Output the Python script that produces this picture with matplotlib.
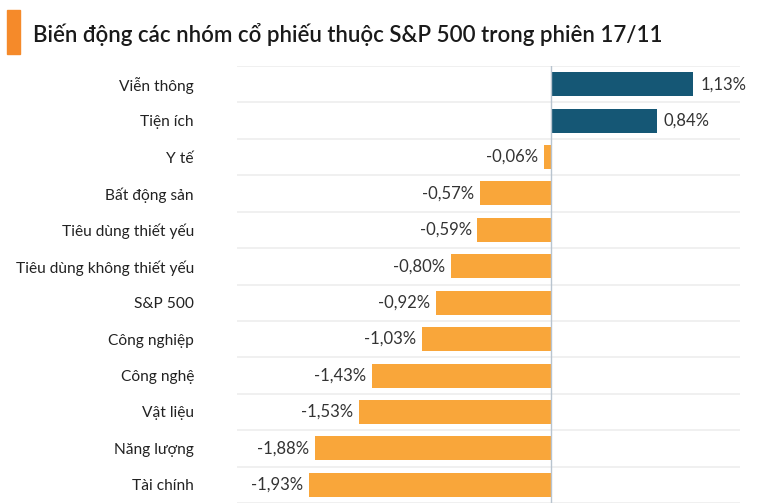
import numpy as np
import matplotlib.pyplot as plt
import matplotlib.patches as patches

plt.rcParams['font.family'] = ['Lato', 'DejaVu Sans']

# dữ liệu
categories = ['Viễn thông', 'Tiện ích', 'Y tế', 'Bất động sản', 'Tiêu dùng thiết yếu',
              'Tiêu dùng không thiết yếu', 'S&P 500', 'Công nghiệp', 'Công nghệ',
              'Vật liệu', 'Năng lượng', 'Tài chính']
values = [1.13, 0.84, -0.06, -0.57, -0.59, -0.80, -0.92, -1.03, -1.43, -1.53, -1.88, -1.93]
title = 'Biến động các nhóm cổ phiếu thuộc S&P 500 trong phiên 17/11'

pos_color = '#155775'
neg_color = '#f9a63a'

fig = plt.figure(figsize=(7.57, 5.04), dpi=100)
ax = fig.add_axes([237 / 757, 1 / 504, 503 / 757, 437 / 504])

y = np.arange(len(categories))
colors = [pos_color if v >= 0 else neg_color for v in values]
ax.barh(y, values, height=0.66, color=colors, zorder=2)

ax.set_xlim(-2.5, 1.5)
ax.set_ylim(len(categories) - 0.5, -0.5)

# đường phân cách các hàng
for b in np.arange(-0.5, len(categories) + 0.5, 1):
    ax.axhline(b, color='#eeeeee', lw=1.2, zorder=1)
ax.axvline(0, color='#b8c4cf', lw=1, zorder=3)

for s in ax.spines.values():
    s.set_visible(False)
ax.set_xticks([])
ax.set_yticks(y)
ax.set_yticklabels(categories, fontsize=11.2, color='#222222')
ax.tick_params(axis='y', length=0, pad=31)

for i, v in enumerate(values):
    txt = f'{v:.2f}%'.replace('.', ',')
    if v >= 0:
        ax.annotate(txt, (v, i), xytext=(5, 0), textcoords='offset points',
                    ha='left', va='center', fontsize=12, color='#333333')
    else:
        ax.annotate(txt, (v, i), xytext=(-4, 0), textcoords='offset points',
                    ha='right', va='center', fontsize=12, color='#333333')

# tiêu đề
fig.patches.append(patches.Rectangle((7 / 757, 1 - 54 / 504), 13 / 757, 44 / 504,
                                     transform=fig.transFigure, color='#f58a2a'))
fig.text(33 / 757, 1 - 34 / 504, title, fontsize=16, fontweight='semibold',
         color='#1a1a1a', va='center', ha='left')

fig.savefig('out.png', dpi=100)
